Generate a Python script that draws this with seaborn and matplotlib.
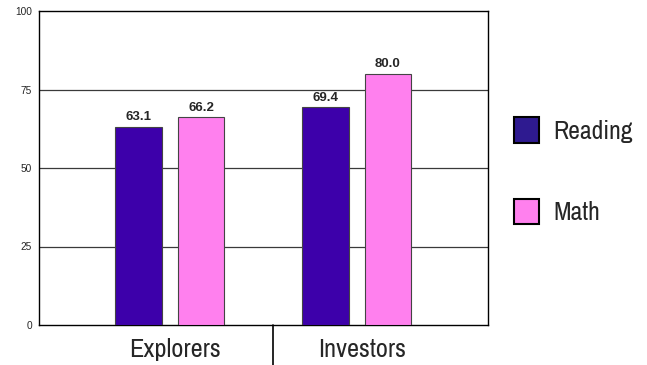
import matplotlib
matplotlib.use("Agg")
import matplotlib.pyplot as plt
import matplotlib.font_manager as fm
import matplotlib.transforms as mtransforms
import seaborn as sns
import pandas as pd
from matplotlib.patches import Patch
from matplotlib.lines import Line2D

categories = ["Explorers", "Investors"]
subjects = ["Reading", "Math"]
reading = [63.1, 69.4]
math_vals = [66.2, 80.0]
yticks = [0, 25, 50, 75, 100]
colors = {"Reading": "#3D00AA", "Math": "#FF80EE"}

df = pd.DataFrame({
    "group": categories * 2,
    "subject": ["Reading"] * 2 + ["Math"] * 2,
    "score": reading + math_vals,
})

sns.set_style("white")
plt.rcParams['font.family'] = ['Liberation Sans', 'DejaVu Sans']


def find_font(must, avoid):
    for f in fm.fontManager.ttflist:
        n = f.fname.lower().replace("-", "").replace("_", "")
        if all(m in n for m in must) and not any(a in n for a in avoid):
            return f.fname
    return None


narrow_file = find_font(["narrow"], ["bold", "italic"])
reg_file = find_font(["liberationsans", "regular"], ["narrow", "bold", "italic"])
bold_file = find_font(["liberationsans", "bold"], ["narrow", "italic"])


def prop(fname, size, weight="normal"):
    if fname:
        return fm.FontProperties(fname=fname, size=size)
    return fm.FontProperties(family=['Arimo', 'Liberation Sans', 'DejaVu Sans'],
                             size=size, weight=weight)


fig = plt.figure(figsize=(6.47, 3.65), dpi=100)
ax = fig.add_axes([39/647, 40/365, 449/647, 314/365])

sns.barplot(data=df, x="group", y="score", hue="subject", order=categories,
            hue_order=subjects, palette=colors, saturation=1, width=0.668, gap=0.25,
            edgecolor="#444444", linewidth=0.8, ax=ax, legend=False, zorder=3)

for cont in ax.containers:
    texts = ax.bar_label(cont, fmt="%.1f", padding=2.5)
    for t in texts:
        t.set_fontproperties(prop(bold_file, 9.5, "bold"))

ax.set_ylim(0, 100)
ax.set_xlim(-0.699, 1.702)
ax.set_yticks(yticks)
ax.set_yticklabels([str(v) for v in yticks])
for lbl in ax.get_yticklabels():
    lbl.set_fontproperties(prop(reg_file, 7.3))
ax.tick_params(axis="y", length=0, pad=5)
ax.tick_params(axis="x", length=0, pad=9.5)
shift = mtransforms.ScaledTranslation(5/100, 0, fig.dpi_scale_trans)
for lbl in ax.get_xticklabels():
    lbl.set_fontproperties(prop(narrow_file, 19))
    lbl.set_transform(lbl.get_transform() + shift)
ax.set_xlabel("")
ax.set_ylabel("")
for y in [25, 50, 75]:
    ax.axhline(y, color="#3a3a3a", linewidth=0.9, zorder=1)
for s in ax.spines.values():
    s.set_color("black")
    s.set_linewidth(1.0)

# category divider below axis
ax.add_line(Line2D([0.552, 0.552], [0, -13], color="black", linewidth=1.2,
                   clip_on=False))

handles = [Patch(facecolor="#2E1A90", edgecolor="black", linewidth=1.5, label="Reading"),
           Patch(facecolor=colors["Math"], edgecolor="black", linewidth=1.5, label="Math")]
fig.legend(handles=handles, loc="upper left", bbox_to_anchor=(491/647, 1 - 94/365),
           frameon=False, handlelength=0.97, handleheight=1.15,
           labelspacing=2.18, handletextpad=0.55,
           prop=prop(narrow_file, 18.5))

fig.savefig("out.png", dpi=100)
